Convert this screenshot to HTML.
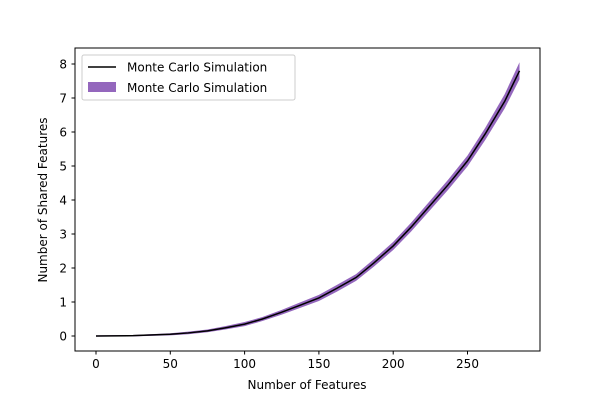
<!DOCTYPE html>
<html><head><meta charset="utf-8"><style>
body{margin:0;background:#fff}
svg{display:block;font-family:"DejaVu Sans","Liberation Sans",sans-serif}
</style></head><body>
<svg id="chart" width="600" height="400">
<rect width="600" height="400" fill="#fff"/>
<g id="plot"></g>
<rect x="75" y="48" width="465" height="303" fill="none" stroke="#000" stroke-width="1"/>
<g id="xticks"></g><g id="yticks"></g>
<text x="307" y="389" font-size="12" text-anchor="middle">Number of Features</text>
<text transform="translate(47,200) rotate(-90)" font-size="12" text-anchor="middle">Number of Shared Features</text>
<g>
<rect x="82" y="55" width="213" height="45" rx="2" fill="#fff" fill-opacity="0.8" stroke="#ccc"/>
<line x1="88" y1="67" x2="116" y2="67" stroke="#000" stroke-width="1.5"/>
<text x="127" y="71.5" font-size="12">Monte Carlo Simulation</text>
<rect x="88" y="82" width="28" height="10" fill="#9467bd"/>
<text x="127" y="92" font-size="12">Monte Carlo Simulation</text>
</g>
</svg>
<script>
const xs=[0,25,50,62,75,87,100,112,125,137,150,162,175,187,200,212,225,237,250,262,275,285];
const ys=[0,0.01,0.05,0.09,0.15,0.24,0.35,0.5,0.7,0.9,1.12,1.4,1.72,2.15,2.65,3.2,3.85,4.45,5.15,5.95,6.9,7.8];
const spread=[0.02,0.02,0.03,0.04,0.04,0.05,0.06,0.06,0.07,0.08,0.09,0.1,0.1,0.11,0.12,0.13,0.14,0.15,0.16,0.18,0.21,0.25];
const xTicks=[0,50,100,150,200,250];
const yTicks=[0,1,2,3,4,5,6,7,8];
const X=v=>96+v*1.486, Y=v=>336-v*34;
const NS="http://www.w3.org/2000/svg";
const plot=document.getElementById('plot');
let d=xs.map((x,i)=>(i?'L':'M')+X(x)+','+Y(ys[i]+spread[i])).join('');
for(let i=xs.length-1;i>=0;i--)d+='L'+X(xs[i])+','+Y(ys[i]-spread[i]);
const band=document.createElementNS(NS,'path');
band.setAttribute('d',d+'Z');band.setAttribute('fill','#9467bd');


plot.appendChild(band);
const line=document.createElementNS(NS,'path');
line.setAttribute('d',xs.map((x,i)=>(i?'L':'M')+X(x)+','+Y(ys[i])).join(''));
line.setAttribute('fill','none');line.setAttribute('stroke','#000');line.setAttribute('stroke-width','1.5');


plot.appendChild(line);
const xt=document.getElementById('xticks');
xTicks.forEach(t=>{const g=document.createElementNS(NS,'g');


g.innerHTML=`<line x1="${X(t)}" y1="351" x2="${X(t)}" y2="354.5" stroke="#000"/><text x="${X(t)}" y="368" font-size="12" text-anchor="middle">${t}</text>`;
xt.appendChild(g);});
const yt=document.getElementById('yticks');
yTicks.forEach(t=>{const g=document.createElementNS(NS,'g');


g.innerHTML=`<line x1="71.5" y1="${Y(t)}" x2="75" y2="${Y(t)}" stroke="#000"/><text x="67" y="${Y(t)+4.5}" font-size="12" text-anchor="end">${t}</text>`;
yt.appendChild(g);});
</script>
</body></html>
